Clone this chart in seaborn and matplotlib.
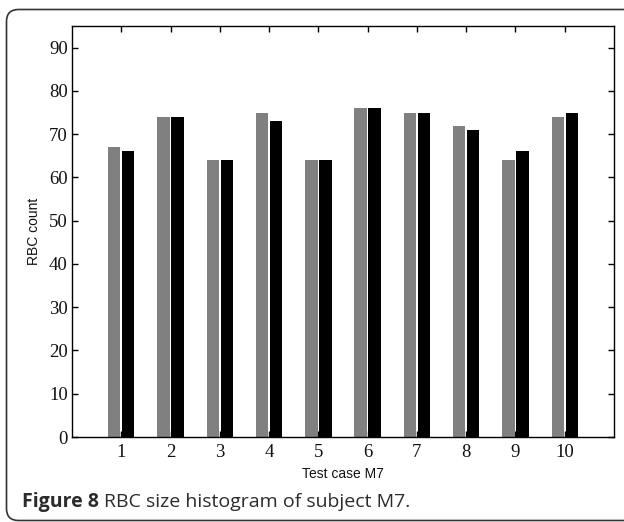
import matplotlib
matplotlib.use("Agg")
import matplotlib.pyplot as plt
import pandas as pd
import seaborn as sns
from matplotlib.patches import FancyBboxPatch

# values
test_cases = [1, 2, 3, 4, 5, 6, 7, 8, 9, 10]
series_a = [67, 74, 64, 75, 64, 76, 75, 72, 64, 74]   # grey bars
series_b = [66, 74, 64, 73, 64, 76, 75, 71, 66, 75]   # black bars
y_ticks = [0, 10, 20, 30, 40, 50, 60, 70, 80, 90]

df = pd.DataFrame({
    "case": test_cases * 2,
    "count": series_a + series_b,
    "series": ["a"] * len(series_a) + ["b"] * len(series_b),
})

sns.set_theme(style="white")
plt.rcParams["font.family"] = ["Liberation Serif", "DejaVu Serif"]

fig = plt.figure(figsize=(6.24, 5.22), dpi=100)
ax = fig.add_axes([72 / 624, 1 - 437 / 522, (614 - 72) / 624, (437 - 26) / 522])

sns.barplot(data=df, x="case", y="count", hue="series", hue_order=["a", "b"],
            palette=["#808080", "#000000"], native_scale=True,
            width=0.57, gap=0.12, saturation=1, linewidth=0, legend=False, ax=ax)

ax.set_xlim(0, 11)
ax.set_ylim(0, 95)
ax.set_xticks(test_cases)
ax.set_xticklabels([str(c) for c in test_cases])
ax.set_yticks(y_ticks)
ax.set_yticklabels([str(v) for v in y_ticks])

for spine in ax.spines.values():
    spine.set_visible(True)
    spine.set_color("black")
    spine.set_linewidth(1.0)

ax.tick_params(axis="both", which="major", direction="in", length=4.5, width=1,
               color="black", labelsize=13.5, labelcolor="#111111",
               top=True, right=True, bottom=True, left=True)
ax.tick_params(axis="x", pad=5)
ax.tick_params(axis="y", pad=3)

ax.set_xlabel("Test case M7", family=["Liberation Sans", "DejaVu Sans"],
              fontsize=10, color="#111111", labelpad=4)
ax.set_ylabel("RBC count", family=["Liberation Sans", "DejaVu Sans"],
              fontsize=10, color="#111111", labelpad=6)

# caption: bold label followed by regular text
cap_font = ["Open Sans", "DejaVu Sans"]
t1 = fig.text(22 / 624, 1 - 507 / 522, "Figure 8", family=cap_font, fontsize=14,
              fontweight="bold", color="#2b2b2b", va="baseline")
fig.canvas.draw()
bb = t1.get_window_extent()
fig.text((bb.x1 + 5) / 624, 1 - 507 / 522, "RBC size histogram of subject M7.",
         family=cap_font, fontsize=14, color="#2b2b2b", va="baseline")

# rounded frame around the figure (right side runs off the edge)
frame = FancyBboxPatch((6.5, 1.5), 660, 511, boxstyle="round,pad=0,rounding_size=12",
                       transform=None, facecolor="none", edgecolor="#333333",
                       linewidth=1.2, clip_on=False)
fig.patches.append(frame)

fig.savefig("out.png", dpi=100)
